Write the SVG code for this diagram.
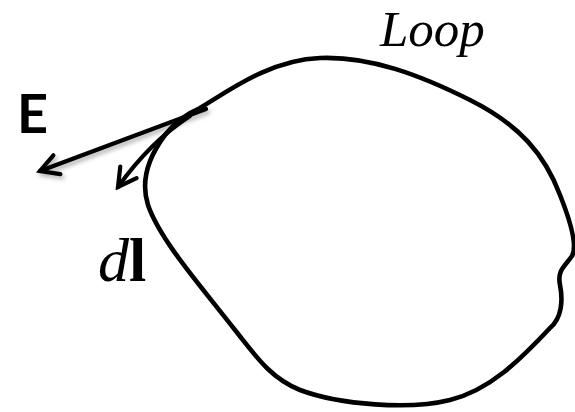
<svg xmlns="http://www.w3.org/2000/svg" width="575" height="412" viewBox="0 0 575 412">
<defs>
<style>
.curve{fill:none;stroke:#000;stroke-width:4.6;stroke-linecap:round;stroke-linejoin:round}
.arrow{fill:none;stroke:#000;stroke-width:4.2;stroke-linecap:round}
.serif{font-family:"Liberation Serif","Times New Roman",serif}
</style>
<marker id="head" markerUnits="userSpaceOnUse" markerWidth="26" markerHeight="26" viewBox="-22 -13 26 26" refX="0" refY="0" orient="auto">
<path d="M-18,-10 L0,0 L-18,10" fill="none" stroke="#000" stroke-width="4.2" stroke-linecap="round" stroke-linejoin="miter"/>
</marker>
<filter id="shadow" x="-20%" y="-40%" width="140%" height="180%">
<feDropShadow dx="2" dy="3" stdDeviation="2" flood-color="#000" flood-opacity="0.3"/>
</filter>
</defs>
<rect width="575" height="412" fill="#fff"/>
<g id="loop">
<path class="curve" d="M200,108 C230,90 270,60 320,58 C370,56 420,75 470,100 C520,125 545,155 560,195 C570,220 578,245 572,256 C565,266 557,270 560,285 C563,300 562,318 550,328 C520,360 490,390 450,400 C410,410 340,405 300,390 C270,378 255,355 235,330 C200,285 160,240 148,205 C140,180 150,155 165,135 C175,122 188,113 200,108 Z"/>
<text class="serif" x="380" y="46" font-size="51" font-style="italic">Loop</text>
</g>
<g id="connectors">
<g id="E-vector" filter="url(#shadow)">
<path class="arrow" d="M206,109 L40,171" marker-end="url(#head)"/>
</g>
<g id="dl-vector">
<path class="arrow" d="M190,116 Q150,142 118,187" marker-end="url(#head)"/>
</g>
</g>
<g id="E-label">
<text x="17" y="133" font-family="Lato,'Liberation Sans',sans-serif" font-weight="bold" font-size="54">E</text>
</g>
<g id="dl-label">
<text class="serif" x="98" y="281" font-size="62"><tspan font-style="italic">d</tspan><tspan font-weight="bold">l</tspan></text>
</g>
</svg>
